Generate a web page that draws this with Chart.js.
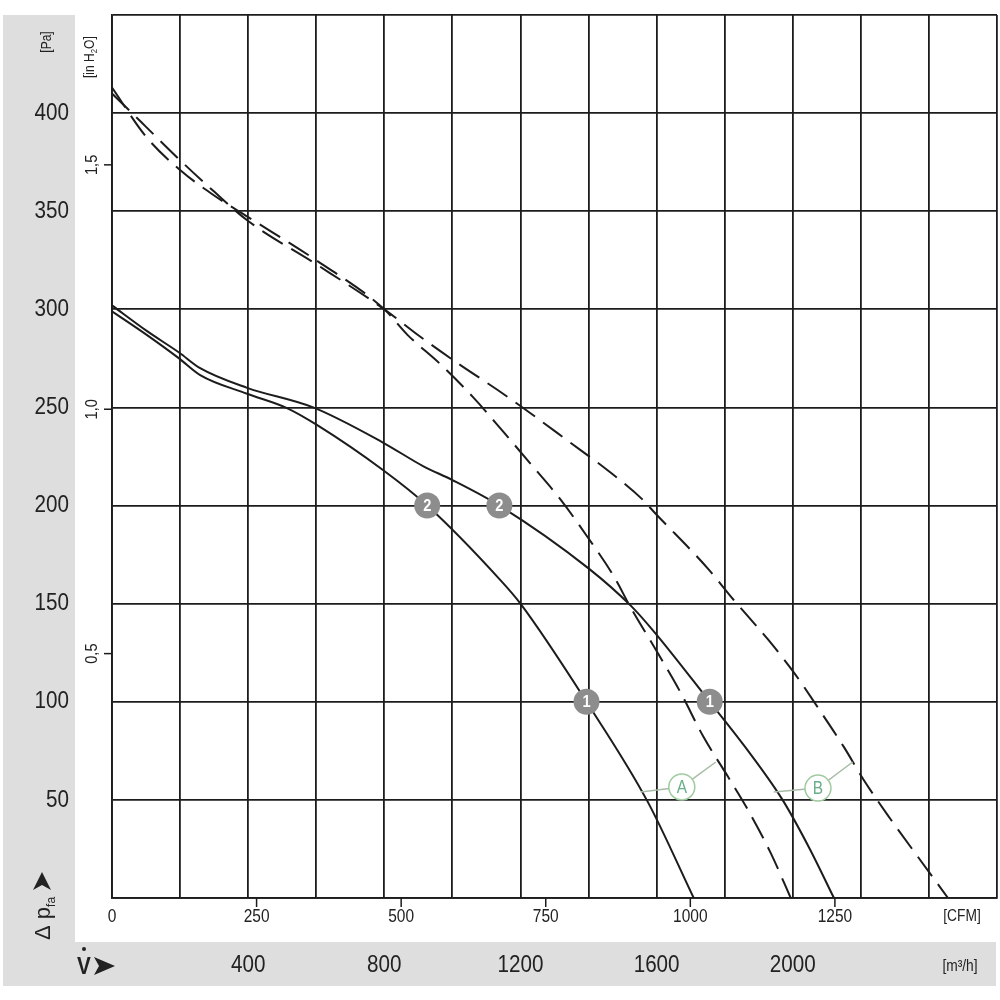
<!DOCTYPE html>
<html>
<head>
<meta charset="utf-8">
<script src="https://cdn.jsdelivr.net/npm/chart.js@4.4.0/dist/chart.umd.min.js"></script>
<style>
  body { margin: 0; background: #fff; }
  #wrap { width: 1000px; height: 1000px; }
</style>
</head>
<body>
<div id="wrap"><canvas id="fanChart" width="1000" height="1000"></canvas></div>
<script>
// flow in m3/h, pressure in Pa
var flowSolid1 = [0, 102, 197, 259, 397, 514, 603, 797, 926, 1141, 1200, 1394, 1574, 1709];
var paSolid1   = [299, 287, 275, 266.5, 257, 249.7, 241, 218, 200, 162, 150, 100, 49, 0];

var flowSolid2 = [0, 102, 197, 259, 397, 591, 797, 915, 1000, 1138, 1400, 1524, 1591, 1756, 1860, 1970, 2050, 2121];
var paSolid2   = [302, 289, 278, 270, 260, 250, 232, 220, 213, 200, 168, 149, 136, 100, 77, 50, 25, 0];

var flowDashA = [0, 100, 200, 300, 400, 600, 800, 868, 965, 1062, 1150, 1238, 1318, 1397, 1474, 1524, 1603, 1671, 1738, 1809, 1868, 1935, 1994];
var paDashA   = [413, 388, 371, 358, 347, 325, 300, 287, 272, 255, 237.5, 219.6, 203, 184, 164, 148, 125, 104.5, 82, 62, 45, 23, 0];

var flowDashB = [0, 100, 200, 300, 400, 600, 800, 906, 1015, 1132, 1206, 1347, 1456, 1559, 1591, 1750, 1826, 1926, 2003, 2074, 2150, 2209, 2288, 2376, 2456];
var paDashB   = [410, 393, 376, 360, 345, 323, 300, 286, 272.6, 259, 250, 232, 218, 203, 197, 168, 152, 132, 115, 97, 77, 60, 40, 19, 0];

// numbered operating points
var markerFlow = [926, 1138, 1394, 1756];
var markerPa   = [200, 200, 100, 100];
var markerText = ['2', '2', '1', '1'];

// A / B callouts: left end, circle, right end
var calloutAFlow = [1553, 1674, 1774];
var calloutAPa   = [54, 56.6, 69.3];
var calloutBFlow = [1944, 2074, 2176];
var calloutBPa   = [54, 56, 69.3];
var calloutText  = ['A', 'B'];

// tick labels
var paTicks   = [50, 100, 150, 200, 250, 300, 350, 400];
var inH2OTicks = [0.5, 1.0, 1.5];
var inH2OLabels = ['0,5', '1,0', '1,5'];
var cfmTicks  = [0, 250, 500, 750, 1000, 1250];
var m3hTicks  = [400, 800, 1200, 1600, 2000];

var PA_PER_INH2O = 249.09;
var M3H_PER_CFM = 1.699;
var FONT = '"Liberation Sans", Arial, sans-serif';
var SQUEEZE = 0.86; // datasheet uses a condensed face
var INK = '#1c1c1c';

function pts(xs, ys) {
  return xs.map(function(x, i) { return { x: x, y: ys[i] }; });
}

// condensed text, horizontal
function nText(c, txt, x, y) {
  c.save();
  c.translate(x, y);
  c.scale(SQUEEZE, 1);
  c.fillText(txt, 0, 0);
  c.restore();
}

// condensed text, rotated to read bottom-up
function rotText(c, txt, x, y) {
  c.save();
  c.translate(x, y);
  c.rotate(-Math.PI / 2);
  c.scale(SQUEEZE, 1);
  c.fillText(txt, 0, 0);
  c.restore();
}

var decor = {
  id: 'decor',
  beforeDraw: function(chart) {
    var c = chart.ctx;
    c.save();
    c.fillStyle = '#dedede';
    c.fillRect(3, 15, 72, 971);
    c.fillRect(3, 942, 993, 44);
    c.restore();
  },
  afterDatasetsDraw: function(chart) {
    var c = chart.ctx;
    c.save();
    // numbers in the gray markers
    c.fillStyle = '#fff';
    c.font = 'bold 17px ' + FONT;
    c.textAlign = 'center';
    c.textBaseline = 'middle';
    chart.getDatasetMeta(0).data.forEach(function(p, i) {
      nText(c, markerText[i], p.x, p.y + 1);
    });
    // A / B letters
    c.fillStyle = '#6aae8a';
    c.font = '18px ' + FONT;
    [1, 2].forEach(function(di, k) {
      var p = chart.getDatasetMeta(di).data[1];
      nText(c, calloutText[k], p.x, p.y + 1);
    });
    c.restore();
  },
  afterDraw: function(chart) {
    var c = chart.ctx;
    var xs = chart.scales.x, ys = chart.scales.y;
    var area = chart.chartArea;
    c.save();
    c.fillStyle = '#222';
    c.strokeStyle = INK;
    c.lineWidth = 1.5;

    // Pa labels in the gray band
    c.font = '24px ' + FONT;
    c.textAlign = 'right';
    c.textBaseline = 'middle';
    paTicks.forEach(function(v) {
      nText(c, String(v), 69, ys.getPixelForValue(v));
    });
    c.font = '14px ' + FONT;
    c.textAlign = 'center';
    rotText(c, '[Pa]', 47, 42);

    // in H2O labels and small ticks
    c.font = '17px ' + FONT;
    c.textAlign = 'center';
    c.textBaseline = 'middle';
    inH2OTicks.forEach(function(v, i) {
      var y = ys.getPixelForValue(v * PA_PER_INH2O);
      rotText(c, inH2OLabels[i], 92, y);
      c.beginPath();
      c.moveTo(area.left - 8, y);
      c.lineTo(area.left, y);
      c.stroke();
    });
    // [in H2O] with subscript
    c.save();
    c.translate(94, 78);
    c.rotate(-Math.PI / 2);
    c.scale(SQUEEZE, 1);
    c.textAlign = 'left';
    c.textBaseline = 'alphabetic';
    c.font = '14px ' + FONT;
    var t1 = '[in H';
    c.fillText(t1, 0, 0);
    var w1 = c.measureText(t1).width;
    c.font = '9px ' + FONT;
    c.fillText('2', w1, 3);
    var w2 = c.measureText('2').width;
    c.font = '14px ' + FONT;
    c.fillText('O]', w1 + w2, 0);
    c.restore();

    // delta p_fa with arrow head
    c.save();
    c.translate(50, 940);
    c.rotate(-Math.PI / 2);
    c.textAlign = 'left';
    c.textBaseline = 'alphabetic';
    c.font = '22px ' + FONT;
    c.fillText('\u0394', 0, 0);
    var wd = c.measureText('\u0394 ').width;
    c.fillText('p', wd, 0);
    var wp = c.measureText('p').width;
    c.font = '12px ' + FONT;
    c.fillText('fa', wd + wp, 5);
    var wf = c.measureText('fa').width;
    var ax = wd + wp + wf + 7;
    c.beginPath();
    c.moveTo(ax, -17);
    c.lineTo(ax + 18, -8);
    c.lineTo(ax, 1);
    c.lineTo(ax + 5, -8);
    c.closePath();
    c.fill();
    c.restore();

    // CFM labels below the plot
    c.font = '18px ' + FONT;
    c.textAlign = 'center';
    c.textBaseline = 'middle';
    cfmTicks.forEach(function(v) {
      var x = xs.getPixelForValue(v * M3H_PER_CFM);
      nText(c, String(v), x, 917);
      if (v > 0) {
        c.beginPath();
        c.moveTo(x, area.bottom);
        c.lineTo(x, area.bottom + 9);
        c.stroke();
      }
    });
    c.font = '16px ' + FONT;
    nText(c, '[CFM]', 962, 917);

    // m3/h labels in the bottom band
    c.font = '24px ' + FONT;
    m3hTicks.forEach(function(v) {
      nText(c, String(v), xs.getPixelForValue(v), 965);
    });
    c.font = '16px ' + FONT;
    nText(c, '[m\u00b3/h]', 960, 967);

    // V-dot with arrow head
    c.font = 'bold 24px ' + FONT;
    c.textAlign = 'left';
    nText(c, 'V', 77, 967);
    c.beginPath();
    c.arc(84, 949, 2, 0, Math.PI * 2);
    c.fill();
    c.beginPath();
    c.moveTo(94, 957);
    c.lineTo(115, 966);
    c.lineTo(94, 975);
    c.lineTo(99, 966);
    c.closePath();
    c.fill();

    c.restore();
  }
};

var curveStyle = function(xs, ys, dashed) {
  return {
    data: pts(xs, ys),
    borderColor: INK,
    borderWidth: 2,
    borderDash: dashed ? [24, 10] : [],
    pointRadius: 0,
    fill: false,
    cubicInterpolationMode: 'monotone'
  };
};

var calloutStyle = function(xs, ys) {
  return {
    data: pts(xs, ys),
    borderColor: '#a7bca7',
    borderWidth: 1.5,
    pointRadius: [0, 13, 0],
    pointBackgroundColor: '#fff',
    pointBorderColor: '#9fcb9f',
    pointBorderWidth: 1.5,
    tension: 0
  };
};

var ctx = document.getElementById('fanChart');
var chart = new Chart(ctx, {
  type: 'line',
  data: {
    datasets: [
      {
        data: pts(markerFlow, markerPa),
        showLine: false,
        pointRadius: 13,
        pointBackgroundColor: '#8d8d8d',
        pointBorderWidth: 0
      },
      calloutStyle(calloutAFlow, calloutAPa),
      calloutStyle(calloutBFlow, calloutBPa),
      curveStyle(flowSolid1, paSolid1, false),
      curveStyle(flowSolid2, paSolid2, false),
      curveStyle(flowDashA, paDashA, true),
      curveStyle(flowDashB, paDashB, true)
    ]
  },
  options: {
    responsive: false,
    animation: false,
    events: [],
    layout: { autoPadding: false, padding: { left: 112, top: 15, right: 3, bottom: 102 } },
    plugins: { legend: { display: false }, tooltip: { enabled: false } },
    scales: {
      x: {
        type: 'linear',
        min: 0, max: 2600,
        ticks: { stepSize: 200, display: false },
        grid: { color: INK, lineWidth: 1.8, drawTicks: false },
        border: { color: INK, width: 1.8 }
      },
      y: {
        type: 'linear',
        min: 0, max: 450,
        ticks: { stepSize: 50, display: false },
        grid: { color: INK, lineWidth: 1.8, drawTicks: false },
        border: { color: INK, width: 1.8 }
      }
    }
  },
  plugins: [decor]
});
</script>
</body>
</html>
